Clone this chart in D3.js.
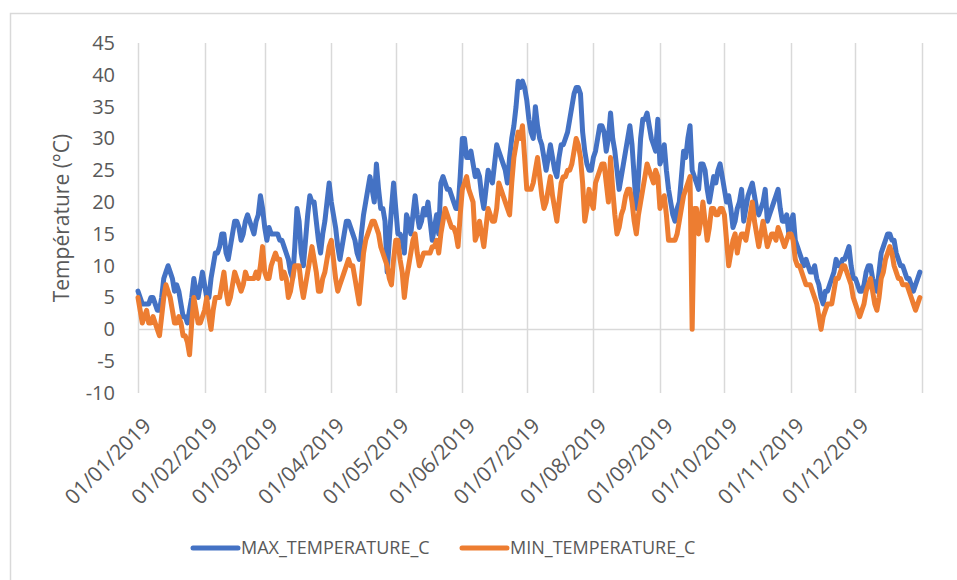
<!DOCTYPE html>
<html>
<head>
<meta charset="utf-8">
<script src="https://cdn.jsdelivr.net/npm/d3@7"></script>
<style>
  body { margin: 0; background: #fff; }
  text { font-family: "Open Sans", "Liberation Sans", sans-serif; fill: #595959; }
</style>
</head>
<body>
<svg id="chart" width="957" height="580"></svg>
<script>
// daily values, 01/01/2019 .. 31/12/2019 (one per day)
var maxTemp = [
  // jan
  6,5,4,4,4,4,5,5,4,3,3,5,8,9,10,9,8,6,7,6,4,2,2,1,3,5,8,6,5,7,9,
  // feb
  7,5,5,8,10,12,12,13,15,15,12,11,13,15,17,17,16,14,15,17,18,17,16,15,17,18,21,19,
  // mar
  16,14,16,15,15,15,15,14,14,13,12,11,9,8,13,19,17,12,10,14,18,21,20,20,17,14,12,15,17,20,23,
  // apr
  20,18,16,13,11,13,15,17,17,16,15,14,12,11,15,18,20,22,24,22,20,26,22,19,19,17,9,14,19,23,
  // may
  19,15,15,14,12,18,17,15,18,21,18,16,17,19,18,20,17,14,16,18,15,23,24,23,22,22,21,20,19,19,24,
  // jun
  30,30,27,27,28,26,24,25,24,21,19,22,25,24,23,26,29,28,27,26,25,23,27,30,32,35,39,38,39,38,
  // jul
  36,33,31,30,35,32,30,29,27,25,27,29,27,25,24,27,29,29,30,31,33,35,37,38,38,37,31,28,26,25,25,
  // aug
  27,28,30,32,32,31,28,30,34,30,28,25,22,24,26,28,30,32,29,24,19,24,30,33,33,34,32,30,29,28,33,
  // sep
  26,27,29,25,22,20,18,17,19,20,24,28,27,30,32,25,24,23,22,26,26,25,22,20,22,24,23,25,26,24,
  // oct
  22,20,21,19,16,17,19,20,22,17,19,21,22,23,21,19,18,19,20,22,17,18,19,20,21,22,19,17,17,18,15,
  // nov
  17,18,14,13,12,11,10,11,10,9,9,10,8,7,5,4,6,6,7,8,9,11,10,10,11,11,12,13,10,8,
  // dec
  8,7,6,6,7,9,10,10,8,7,6,9,12,13,14,15,15,14,14,12,11,10,10,9,8,8,7,6,7,8,9
];

var minTemp = [
  // jan
  5,3,1,2,3,1,1,2,1,0,-1,2,5,7,6,5,3,1,1,2,1,-1,-1,-2,-4,1,5,3,1,1,2,
  // feb
  3,5,2,0,3,5,5,5,7,9,6,4,5,7,9,8,7,6,7,9,8,8,8,8,9,8,10,13,
  // mar
  9,8,8,10,11,12,11,11,8,9,8,5,6,8,10,10,10,7,5,7,9,11,13,11,9,6,6,8,9,11,13,
  // apr
  14,11,8,6,7,8,9,10,11,10,10,8,6,4,8,12,14,15,16,17,17,16,15,13,12,11,10,8,7,11,
  // may
  14,14,11,9,5,8,10,12,14,15,12,10,11,12,12,12,12,13,13,14,12,15,17,19,18,17,16,16,15,13,18,
  // jun
  22,23,24,22,21,20,14,15,17,15,13,16,19,18,17,17,19,23,22,21,20,19,18,23,27,29,31,30,32,27,
  // jul
  22,22,22,23,25,27,24,21,19,20,22,24,21,19,17,20,23,24,24,25,25,26,28,30,29,27,23,17,19,22,20,
  // aug
  19,23,24,25,26,26,23,20,27,22,18,15,16,18,19,21,22,22,20,17,15,18,20,22,24,26,25,24,23,25,24,
  // sep
  19,20,21,18,14,14,14,14,15,17,19,21,22,23,24,0,19,19,15,17,20,17,14,16,19,19,18,18,19,19,
  // oct
  18,14,10,12,14,15,12,14,15,15,14,16,18,20,17,15,13,15,17,15,13,14,15,15,14,16,15,14,13,14,15,
  // nov
  15,14,11,10,10,9,8,7,7,7,6,5,4,2,0,2,3,4,4,4,6,8,8,9,10,10,9,8,7,5,
  // dec
  4,3,2,3,4,6,7,8,6,4,3,5,8,9,11,12,13,12,10,9,8,8,7,7,7,6,5,4,3,4,5
];

var seriesNames = ['MAX_TEMPERATURE_C', 'MIN_TEMPERATURE_C'];
var seriesColors = ['#4472C4', '#ED7D31'];
var yTicks = [-10, -5, 0, 5, 10, 15, 20, 25, 30, 35, 40, 45];

var startDate = new Date(2019, 0, 1);
var endDate = new Date(2020, 0, 1);

function dayDate(i) {
  return new Date(2019, 0, 1 + i);
}

var svg = d3.select('#chart');

// chart area border
svg.append('rect')
  .attr('x', 10.5)
  .attr('y', 13.5)
  .attr('width', 960)
  .attr('height', 580)
  .attr('fill', 'none')
  .attr('stroke', '#d9d9d9')
  .attr('stroke-width', 1.5);

var x = d3.scaleTime()
  .domain([startDate, endDate])
  .range([138, 922]);

var y = d3.scaleLinear()
  .domain([-10, 45])
  .range([393, 43]);

var months = d3.timeMonth.range(startDate, d3.timeDay.offset(endDate, 1));

// vertical gridlines, one per month
svg.append('g')
  .selectAll('line')
  .data(months)
  .enter().append('line')
  .attr('x1', function (d) { return Math.round(x(d)) + 0.5; })
  .attr('x2', function (d) { return Math.round(x(d)) + 0.5; })
  .attr('y1', y(45))
  .attr('y2', y(-10))
  .attr('stroke', '#d9d9d9')
  .attr('stroke-width', 1.5);

// horizontal axis line at 0
svg.append('line')
  .attr('x1', x(startDate))
  .attr('x2', x(endDate))
  .attr('y1', Math.round(y(0)) + 0.5)
  .attr('y2', Math.round(y(0)) + 0.5)
  .attr('stroke', '#d9d9d9')
  .attr('stroke-width', 1.5);

// y axis (plain hyphen for negatives, like the original)
var yAxis = svg.append('g')
  .attr('transform', 'translate(138,0)')
  .call(d3.axisLeft(y).tickValues(yTicks).tickFormat(function (d) { return String(d); })
    .tickSize(0).tickPadding(23));
yAxis.select('.domain').remove();
yAxis.selectAll('text')
  .style('font-size', '20px')
  .attr('fill', '#595959');

// x axis labels
var fmt = d3.timeFormat('%d/%m/%Y');
var xAxis = svg.append('g')
  .attr('transform', 'translate(0,393)')
  .call(d3.axisBottom(x).tickValues(months.slice(0, 12)).tickFormat(fmt).tickSize(0));
xAxis.select('.domain').remove();
xAxis.selectAll('text')
  .style('font-size', '21px')
  .attr('fill', '#595959')
  .attr('text-anchor', 'end')
  .attr('y', 0)
  .attr('dy', 0)
  .attr('transform', 'translate(14,34) rotate(-45)');

// y axis title
svg.append('text')
  .attr('transform', 'translate(69,218) rotate(-90)')
  .attr('text-anchor', 'middle')
  .style('font-size', '21px')
  .text('Température (°C)');

// lines
var line = d3.line()
  .x(function (d, i) { return x(dayDate(i)); })
  .y(function (d) { return y(d); });

var series = [maxTemp, minTemp];
svg.append('g')
  .selectAll('path')
  .data(series)
  .enter().append('path')
  .attr('d', line)
  .attr('fill', 'none')
  .attr('stroke', function (d, i) { return seriesColors[i]; })
  .attr('stroke-width', 5)
  .attr('stroke-linejoin', 'round')
  .attr('stroke-linecap', 'round');

// legend
var legendX = [193, 462];
var legend = svg.append('g')
  .selectAll('g')
  .data(seriesNames)
  .enter().append('g')
  .attr('transform', function (d, i) { return 'translate(' + legendX[i] + ',548)'; });

legend.append('line')
  .attr('x1', 0)
  .attr('x2', 45)
  .attr('stroke', function (d, i) { return seriesColors[i]; })
  .attr('stroke-width', 5)
  .attr('stroke-linecap', 'round');

legend.append('text')
  .attr('x', 48)
  .attr('dy', '0.35em')
  .style('font-size', '18px')
  .text(function (d) { return d; });
</script>
</body>
</html>
